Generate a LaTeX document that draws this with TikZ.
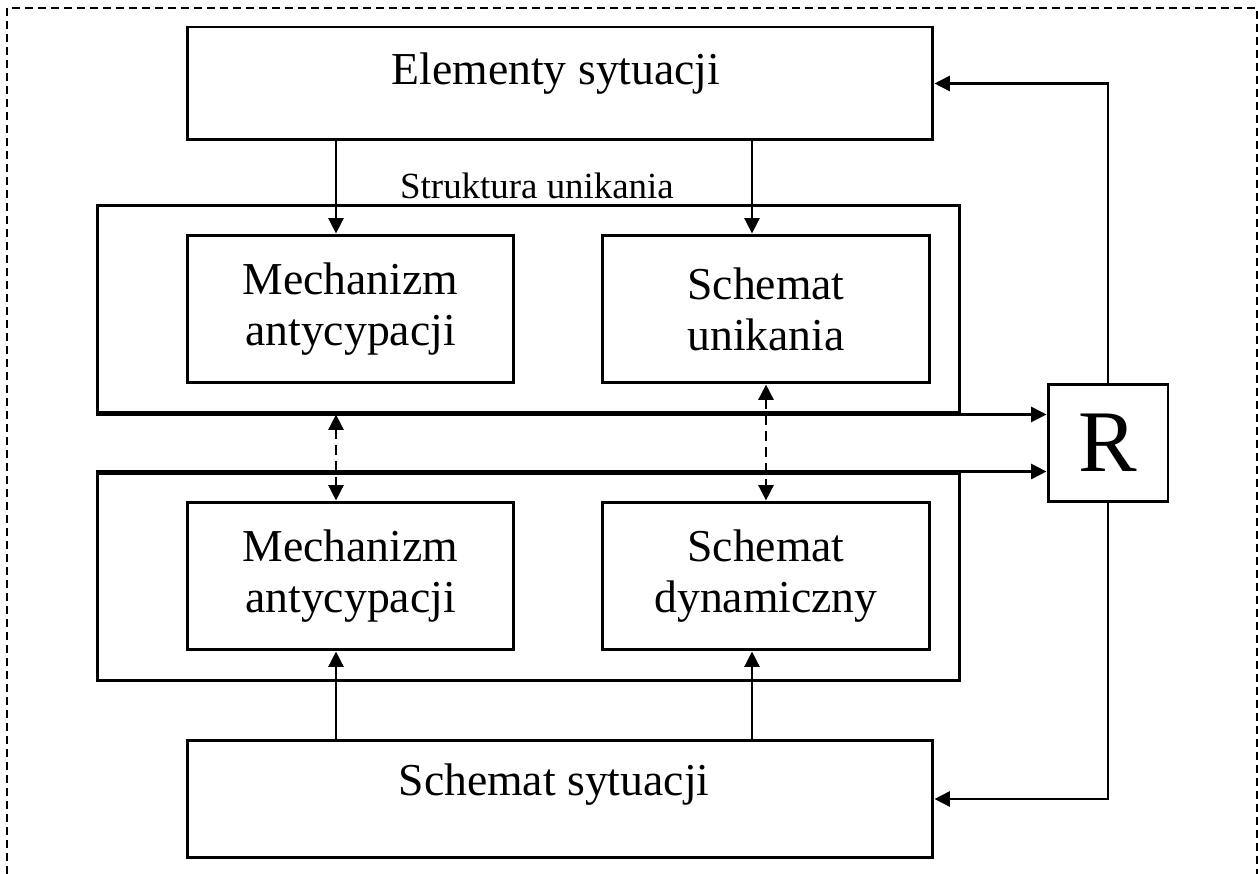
\documentclass[tikz,border=0pt]{standalone}
\usepackage{fontspec}
\setmainfont{Liberation Serif}
\usetikzlibrary{arrows.meta, positioning}
\tikzstyle{block} = [
    rectangle,
    draw=black,
    line width=1.7pt,
    inner sep=0pt,
    text centered,
    align=center,
    font=\fontsize{26}{29}\selectfont
]
\tikzstyle{outerbox} = [
    rectangle,
    draw=black,
    line width=1.7pt,
    minimum width=17.26cm,
    minimum height=4.16cm
]
\tikzstyle{boxtext} = [
    anchor=base,
    inner sep=0pt,
    font=\fontsize{26}{29}\selectfont
]
\tikzstyle{arrow} = [line width=1.6pt,-{Triangle[length=0.31cm,width=0.3cm]}]
\tikzstyle{dasharrow} = [
    line width=1.6pt,
    {Triangle[length=0.31cm,width=0.3cm]}-{Triangle[length=0.31cm,width=0.3cm]},
    dash pattern=on 0.2cm off 0.12cm
]
\tikzstyle{pageborder} = [line width=0.7pt, dash pattern=on 0.16cm off 0.1cm]

\begin{document}
\begin{tikzpicture}[x=0.02cm, y=-0.02cm]

\useasboundingbox (0,0) rectangle (1258,874);
\draw[pageborder] (7,874) -- (7,8) -- (1257,8) -- (1257,874);

% top and bottom boxes
\node (elem) [block, minimum width=14.92cm, minimum height=2.26cm] at (560,83.5) {};
\node (elemtxt) [boxtext] at (556,85) {Elementy sytuacji};
\node (sit) [block, minimum width=14.92cm, minimum height=2.36cm] at (560,799) {};
\node (sittxt) [boxtext] at (554,795) {Schemat sytuacji};

% upper group
\node (stru) [outerbox] at (528.5,309) {};
\node (strulbl) [anchor=base, inner sep=0pt, font=\fontsize{21}{24}\selectfont] at (537,199) {Struktura unikania};
\node (mech1) [block, minimum width=6.54cm, minimum height=2.96cm] at (350.5,309) {Mechanizm\\antycypacji};
\node (sch1) [block, minimum width=6.56cm, minimum height=2.96cm] at (766,309) {Schemat\\unikania};

% lower group
\node (dyn) [outerbox] at (528.5,577) {};
\node (mech2) [block, minimum width=6.54cm, minimum height=2.96cm] at (350.5,576) {Mechanizm\\antycypacji};
\node (sch2) [block, minimum width=6.56cm, minimum height=2.96cm] at (766,576) {Schemat\\dynamiczny};

\node (rbox) [block, minimum width=2.4cm, minimum height=2.36cm, font=\fontsize{50}{52}\selectfont] at (1108,443) {R};

\coordinate (colL) at (336,0);
\coordinate (colR) at (752,0);

\draw[arrow] (elem.south -| colL) -- (mech1.north -| colL);
\draw[arrow] (elem.south -| colR) -- (sch1.north -| colR);
\draw[arrow] (sit.north -| colL) -- (mech2.south -| colL);
\draw[arrow] (sit.north -| colR) -- (sch2.south -| colR);
\draw[dasharrow] (stru.south -| colL) -- (mech2.north -| colL);
\draw[dasharrow] (sch1.south) -- (sch2.north);
\draw[arrow] (stru.south west) -- (stru.south west -| rbox.west);
\draw[arrow] (dyn.north west) -- (dyn.north west -| rbox.west);
\draw[arrow] (rbox.north) |- (elem.east);
\draw[arrow] (rbox.south) |- (sit.east);

\end{tikzpicture}
\end{document}
